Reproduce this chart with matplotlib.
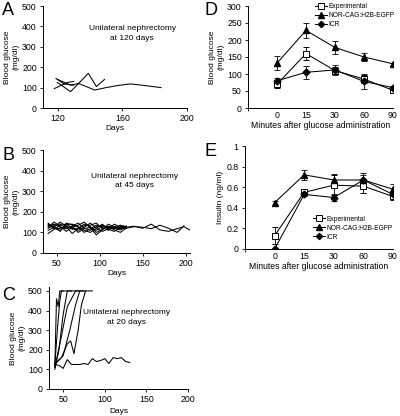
import matplotlib.pyplot as plt
from matplotlib.lines import Line2D

plt.rcParams["font.family"] = ["Liberation Sans", "DejaVu Sans"]
plt.rcParams["font.size"] = 6

# Panel A: glucose after nephrectomy at 120 days
a_lines = [
    ([120, 128, 133, 143, 150, 157, 165, 172, 184],
     [140, 112, 120, 88, 100, 110, 118, 112, 100]),
    ([120, 128, 133, 139, 144, 149], [125, 80, 120, 170, 105, 140]),
    ([118, 122, 126, 130], [95, 110, 125, 130]),
    ([119, 124, 130], [145, 118, 112]),
]

# Panel B: glucose after nephrectomy at 45 days
b_days = [40, 47, 54, 61, 68, 75, 82, 89, 96, 103, 110, 117, 124, 131]
b_lines = [
    [130, 140, 125, 118, 132, 145, 120, 110, 128, 135, 122, 118, 130, 125],
    [110, 125, 150, 130, 115, 120, 140, 128, 100, 115, 130, 120, 112, 128],
    [145, 120, 110, 135, 140, 125, 100, 118, 135, 125, 110, 130, 120, 118],
    [95, 115, 135, 140, 120, 110, 125, 145, 120, 105, 118, 140, 125, 130],
    [125, 150, 130, 105, 125, 135, 150, 122, 110, 130, 128, 112, 100, 122],
    [140, 118, 120, 128, 95, 120, 132, 135, 145, 118, 125, 120, 135, 128],
    [120, 135, 140, 120, 130, 100, 118, 125, 88, 112, 140, 125, 118, 130],
    [135, 128, 105, 145, 138, 128, 110, 100, 120, 140, 115, 105, 125, 120],
]
b_long_days = [131, 140, 150, 160, 170, 180, 190, 198, 207]
b_long_vals = [125, 130, 120, 140, 112, 105, 118, 128, 106]
b_long2_days = [131, 140, 150, 160, 170, 180, 190, 198]
b_long2_vals = [120, 128, 125, 118, 135, 120, 100, 132]

# Panel C: glucose after nephrectomy at 20 days
c_lines = [
    ([40, 42, 44, 46, 50], [110, 460, 420, 500, 500]),
    ([40, 43, 46, 48, 85], [120, 300, 450, 500, 500]),
    ([40, 45, 50, 55, 60], [100, 200, 380, 500, 500]),
    ([40, 47, 55, 65, 75], [110, 250, 420, 500, 500]),
    ([40, 48, 55, 59, 63, 68, 72, 77], [130, 160, 230, 245, 180, 300, 430, 500]),
    ([40, 50, 58, 65, 70], [125, 170, 300, 430, 500]),
    ([40, 45, 50, 55, 60, 70, 75, 80, 85, 90, 95, 100, 105, 110, 115, 120, 125, 130],
     [125, 120, 105, 150, 125, 125, 130, 125, 155, 140, 145, 155, 130, 160, 155, 160, 140, 135]),
]

# Panels D/E: glucose tolerance test
minutes = ["0", "15", "30", "60", "90"]
series = ["Experimental", "NOR-CAG:H2B-EGFP", "ICR"]
d_exp = [70, 160, 110, 85, 52]
d_exp_err = [10, 20, 10, 12, 5]
d_nor = [132, 228, 178, 150, 130]
d_nor_err = [20, 22, 18, 12, 3]
d_icr = [80, 105, 112, 78, 60]
d_icr_err = [8, 20, 15, 22, 6]

e_exp = [0.13, 0.55, 0.62, 0.61, 0.51]
e_exp_err = [0.08, 0.02, 0.10, 0.07, 0.03]
e_nor = [0.45, 0.72, 0.67, 0.67, 0.58]
e_nor_err = [0.02, 0.05, 0.06, 0.07, 0.05]
e_icr = [0.0, 0.53, 0.50, 0.67, 0.53]
e_icr_err = [0.0, 0.02, 0.03, 0.05, 0.03]

W, H = 400, 416


def box(l, t, r, b):
    return [l / W, 1 - b / H, (r - l) / W, (b - t) / H]


def style(ax):
    for s in ["top", "right"]:
        ax.spines[s].set_visible(False)
    for s in ["left", "bottom"]:
        ax.spines[s].set_linewidth(0.7)
    ax.tick_params(direction="out", length=2.5, width=0.6, pad=2, labelsize=6.3)


fig = plt.figure(figsize=(4, 4.16), dpi=100)
lw = 0.75

# A
ax = fig.add_axes(box(43, 6, 187, 108))
for x, y in a_lines:
    ax.plot(x, y, color="black", lw=lw)
ax.set_xlim(111, 200)
ax.set_ylim(0, 500)
ax.set_xticks([120, 160, 200])
ax.set_yticks(range(0, 501, 100))
ax.set_xlabel("Days", labelpad=1)
ax.set_ylabel("Blood glucose\n(mg/dl)", labelpad=2)
ax.text(0.62, 0.73, "Unilateral nephrectomy\nat 120 days", transform=ax.transAxes,
        ha="center", va="center", linespacing=1.5)
style(ax)
fig.text(0.005, 0.975, "A", fontsize=13, va="center")

# B
ax = fig.add_axes(box(43, 150, 190, 253))
for y in b_lines:
    ax.plot(b_days, y, color="black", lw=lw)
ax.plot(b_long_days, b_long_vals, color="black", lw=lw)
ax.plot(b_long2_days, b_long2_vals, color="black", lw=lw)
ax.set_xlim(34, 205)
ax.set_ylim(0, 500)
ax.set_xticks([50, 100, 150, 200])
ax.set_yticks(range(0, 501, 100))
ax.set_xlabel("Days", labelpad=1)
ax.set_ylabel("Blood glucose\n(mg/dl)", labelpad=2)
ax.text(0.62, 0.7, "Unilateral nephrectomy\nat 45 days", transform=ax.transAxes,
        ha="center", va="center", linespacing=1.5)
style(ax)
fig.text(0.005, 0.625, "B", fontsize=13, va="center")

# C
ax = fig.add_axes(box(49, 287, 188, 389))
for x, y in c_lines:
    ax.plot(x, y, color="black", lw=lw)
ax.set_xlim(33, 200)
ax.set_ylim(0, 520)
ax.set_xticks([50, 100, 150, 200])
ax.set_yticks(range(0, 501, 100))
ax.set_xlabel("Days", labelpad=3)
ax.set_ylabel("Blood glucose\n(mg/dl)", labelpad=2)
ax.text(0.56, 0.7, "Unilateral nephrectomy\nat 20 days", transform=ax.transAxes,
        ha="center", va="center", linespacing=1.5)
style(ax)
fig.text(0.005, 0.29, "C", fontsize=13, va="center")

pos = [1, 2, 3, 4, 5]
marks = [dict(marker="s", ms=5, mfc="white", mec="black", mew=0.7),
         dict(marker="^", ms=5, mfc="black", mec="black"),
         dict(marker="D", ms=3.5, mfc="black", mec="black")]


def gtt(ax, vals, errs):
    kw = dict(color="black", lw=lw, capsize=2, elinewidth=0.6, capthick=0.6)
    for v, e, m in zip(vals, errs, marks):
        ax.errorbar(pos, v, yerr=e, **m, **kw)
    ax.set_xlim(0, 5)
    ax.set_xticks(pos)
    ax.set_xticklabels(minutes)
    ax.set_xticks([0, 1, 2, 3, 4, 5], minor=True)
    ax.set_xlabel("Minutes after glucose administration", labelpad=1, fontsize=6.2)
    style(ax)
    ax.tick_params(axis="x", which="major", length=0)
    ax.tick_params(axis="x", which="minor", direction="out", length=2.5, width=0.6)


def legend(ax, anchor, loc):
    handles = [Line2D([], [], color="black", lw=lw, markersize=m.get("ms", 5) * 0.9,
                      **{k: v for k, v in m.items() if k != "ms"}) for m in marks]
    ax.legend(handles, series, loc=loc, bbox_to_anchor=anchor, frameon=False,
              fontsize=4.8, handlelength=1.8, handletextpad=0.2, labelspacing=0.3,
              borderaxespad=0, borderpad=0)


# D
ax = fig.add_axes(box(248, 6, 393, 108))
gtt(ax, [d_exp, d_nor, d_icr], [d_exp_err, d_nor_err, d_icr_err])
ax.set_ylim(0, 300)
ax.set_yticks(range(0, 301, 50))
ax.set_ylabel("Blood glucose\n(mg/dl)", labelpad=2)
legend(ax, (0.46, 1.03), "upper left")
fig.text(0.51, 0.975, "D", fontsize=13, va="center")

# E
ax = fig.add_axes(box(245, 146, 393, 249))
gtt(ax, [e_exp, e_nor, e_icr], [e_exp_err, e_nor_err, e_icr_err])
ax.set_ylim(0, 1)
ax.set_yticks([0, 0.2, 0.4, 0.6, 0.8, 1])
ax.set_yticklabels(["0", "0.2", "0.4", "0.6", "0.8", "1"])
ax.set_ylabel("Insulin (ng/ml)", labelpad=2)
legend(ax, (0.46, 0.08), "lower left")
fig.text(0.51, 0.635, "E", fontsize=13, va="center")

fig.savefig("out.png", dpi=100)
